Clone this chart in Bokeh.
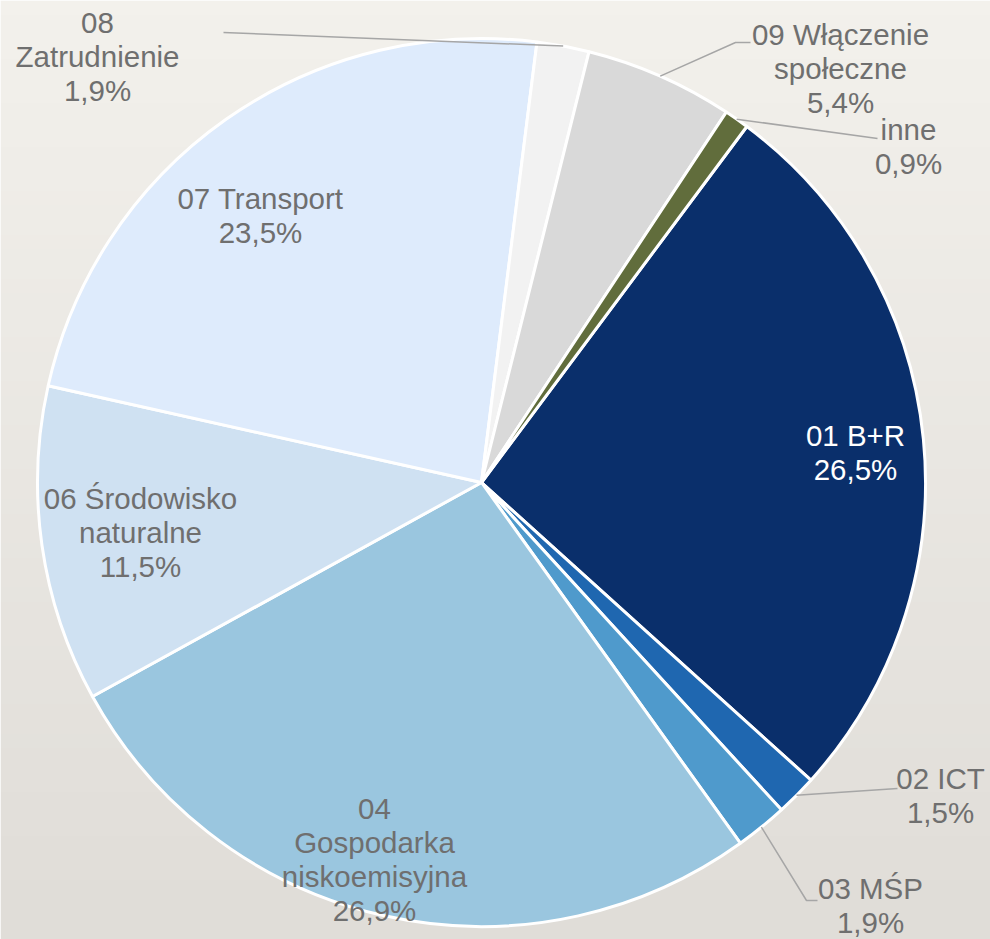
import numpy as np
from bokeh.plotting import figure
from bokeh.models import Range1d
from bokeh.core.properties import value
from bokeh.embed import file_html
from bokeh.resources import INLINE

# ---- data ----
categories = ["01 B+R", "02 ICT", "03 MŚP", "04\nGospodarka\nniskoemisyjna",
              "06 Środowisko\nnaturalne", "07 Transport", "08\nZatrudnienie",
              "09 Włączenie\nspołeczne", "inne"]
shares = [26.5, 1.5, 1.9, 26.9, 11.5, 23.5, 1.9, 5.4, 0.9]
colors = ["#0a2f6b", "#1f67b0", "#4f9acc", "#9ac6df", "#cfe1f2",
          "#deebfc", "#f2f2f2", "#d9d9d9", "#616d3c"]

# ---- layout (pixel space, y down) ----
W, H = 990, 939
CX, CY, R = 481, 482, 444
START_DEG = 36.7  # clockwise from 12 o'clock, start of first slice
label_pos = [(855, 452), (940, 795), (870, 905), (374, 859), (140, 532),
             (260, 215), (97, 56), (840, 68), (908, 146)]
label_colors = ["#ffffff"] + ["#6f6f6f"] * 8
# leader line bend/end points (pixel) per slice index
leaders = {1: [(897, 788)], 2: [(806, 900), (817, 900)], 6: [(223, 32)],
           7: [(735, 42), (750, 42)], 8: [(877, 138)]}

def yd(ypx):
    return H - ypx

p = figure(width=W, height=H, output_backend="svg", toolbar_location=None,
           x_range=Range1d(0, W), y_range=Range1d(0, H),
           x_axis_type=None, y_axis_type=None, min_border=0)
p.outline_line_color = None
p.grid.visible = False

# background gradient
rows = 64
top = np.array([0xf3, 0xf1, 0xec], float)
bot = np.array([0xe0, 0xdd, 0xd8], float)
img = np.empty((rows, 2), dtype=np.uint32)
view = img.view(dtype=np.uint8).reshape((rows, 2, 4))
for i in range(rows):
    t = 1 - i / (rows - 1)  # row 0 at bottom
    c = top * (1 - t) + bot * t
    view[i, :, 0:3] = c.astype(np.uint8)
    view[i, :, 3] = 255
p.image_rgba(image=[img], x=0, y=0, dw=W, dh=H)

total = sum(shares)
cum = np.cumsum([0] + shares)
a0 = START_DEG + cum[:-1] / total * 360.0
a1 = START_DEG + cum[1:] / total * 360.0
start = np.radians(90 - a1)
end = np.radians(90 - a0)

p.wedge(x=CX, y=yd(CY), radius=R, start_angle=start, end_angle=end,
        direction="anticlock", fill_color=colors, line_color="white",
        line_width=3)

# leader lines
xs, ys = [], []
for i, pts in leaders.items():
    mid = np.radians((a0[i] + a1[i]) / 2)
    ax = CX + R * np.sin(mid)
    ay = CY - R * np.cos(mid)
    xs.append([ax] + [q[0] for q in pts])
    ys.append([yd(ay)] + [yd(q[1]) for q in pts])
p.multi_line(xs=xs, ys=ys, line_color="#a6a6a6", line_width=1.5)

texts = [f"{c}\n{v:.1f}".replace(".", ",") + "%" for c, v in zip(categories, shares)]
p.text(x=[q[0] for q in label_pos], y=[yd(q[1]) for q in label_pos], text=texts,
       text_font=value("Liberation Sans"), text_font_size="29.5px",
       text_color=label_colors, text_align="center", text_baseline="middle",
       text_line_height=1.04)

open("out.html", "w").write(file_html(p, INLINE))
